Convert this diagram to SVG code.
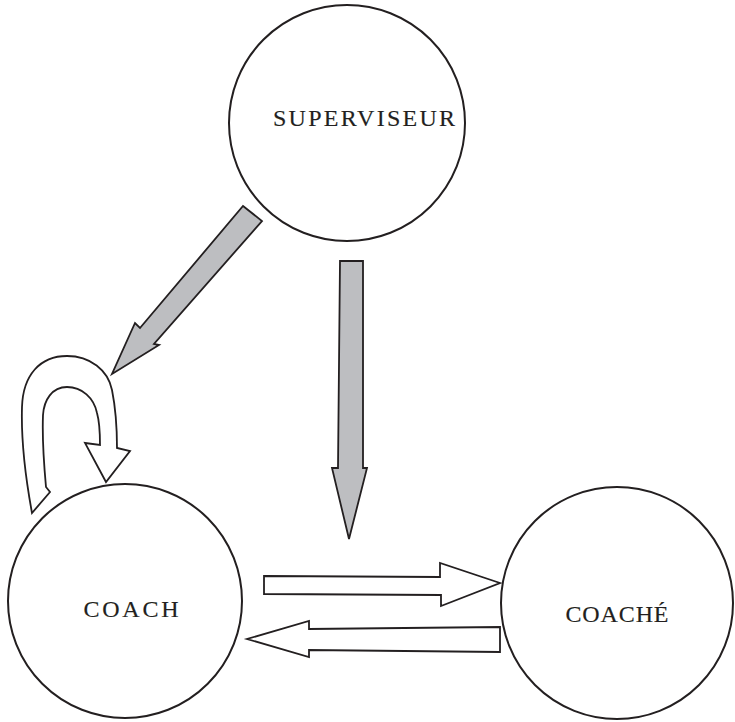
<svg xmlns="http://www.w3.org/2000/svg" width="735" height="722" viewBox="0 0 735 722">
<style>
.node{fill:#fff;stroke:#231f20;stroke-width:2}
.lbl{font-family:"Liberation Serif","Times New Roman",serif;font-size:24px;fill:#231f20;stroke:#231f20;stroke-width:0.15;text-anchor:middle}
.gray{fill:#bdbec1;stroke:#231f20;stroke-width:1.8;stroke-linejoin:miter}
.open{fill:#fff;stroke:#231f20;stroke-width:1.8;stroke-linejoin:miter}
</style>
<rect width="735" height="722" fill="#fff"/>
<g id="superviseur">
<circle class="node" cx="347" cy="123" r="118"/>
<text class="lbl" x="364" y="126" textLength="182" lengthAdjust="spacing">SUPERVISEUR</text>
</g>
<g id="coach">
<circle class="node" cx="125" cy="601" r="117"/>
<text class="lbl" x="131" y="617" textLength="95" lengthAdjust="spacing">COACH</text>
</g>
<g id="coache">
<circle class="node" cx="617" cy="603" r="116"/>
<text class="lbl" x="617" y="622" textLength="103" lengthAdjust="spacing">COACHÉ</text>
</g>
<g id="connectors">
<polygon class="gray" points="243,206 262,221 154,344 159,345 112,374 135,323 140,328"/>
<polygon class="gray" points="340,261 363,261 363,468 367,468 349,539 332,468 338,468"/>
<polygon class="open" points="264,576 440,577 440,563 500,583 441,606 441,595 264,594"/>
<polygon class="open" points="500,627 500,652 309,650 309,657 247,639 309,621 309,629"/>
<path class="open" d="M32,513 C25,475 21,440 22,407 C23,375 40,356 67,356 C90,356 108,370 112,390 C116,410 117,430 117,448 L130,451 L106,482 L85,443 L100,445 C100,430 99,420 97,413 C94,398 82,387 67,387 C52,387 44,400 43,415 C42,440 44,465 46,487 L50,492 Z"/>
</g>
</svg>
